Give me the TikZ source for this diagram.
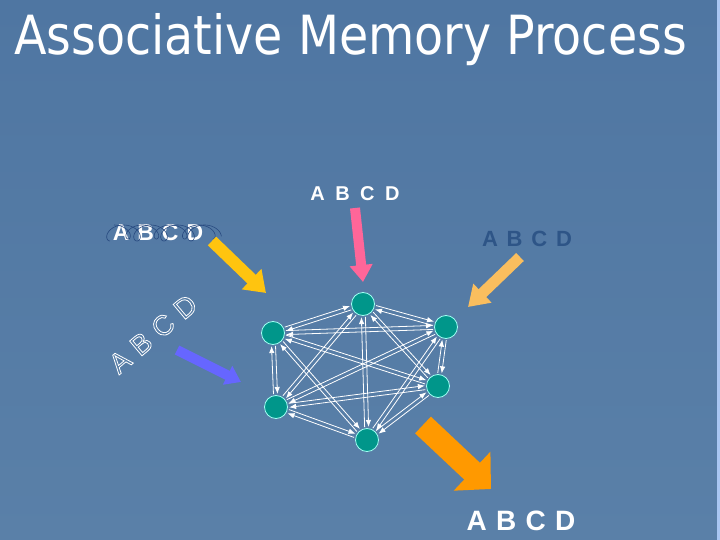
\documentclass[tikz,border=0pt]{standalone}
\usepackage{fontspec}
\setmainfont{Liberation Sans}
\newfontfamily\titlefont{DejaVu Sans}
\newfontfamily\abcdfont{Liberation Sans}
\usetikzlibrary{arrows.meta,calc}

\definecolor{bgtop}{HTML}{4F76A2}
\definecolor{bgbottom}{HTML}{5A80A8}
\definecolor{edgestrip}{HTML}{A9C6F2}
\definecolor{neuronfill}{HTML}{00968A}
\definecolor{neuronrim}{HTML}{9FFFF2}
\definecolor{inkblue}{HTML}{2E5587}
\definecolor{scribble}{HTML}{284A80}
\definecolor{goldarrow}{HTML}{FFC40F}
\definecolor{pinkarrow}{HTML}{FF6699}
\definecolor{peacharrow}{HTML}{FABE5E}
\definecolor{violetarrow}{HTML}{6666FF}
\definecolor{orangearrow}{HTML}{FF9900}

% hollow letters (stroked, not filled)
\newcommand{\hollow}[1]{\special{pdf:literal direct 1 Tr 0.8 w}#1\special{pdf:literal direct 0 Tr}}
% letters with a given size and gap
\newcommand{\abcd}[2]{\abcdfont\bfseries\fontsize{#1}{#1}\selectfont\spaceskip=#2\relax A B C D}

\tikzset{
  neuron/.style={circle, fill=neuronfill, draw=neuronrim, line width=0.8bp,
    minimum size=23bp, inner sep=0pt},
  link/.style={white, line width=0.8bp, -{Latex[length=7bp,width=5.5bp]},
    shorten <=13bp, shorten >=13bp},
  blockarrow/.style={line width=#1, line cap=butt}
}

\begin{document}
\begin{tikzpicture}[x=1bp,y=-1bp]
		% Background
		\shade[top color=bgtop, bottom color=bgbottom] (0,0) rectangle (720,540);
		\fill[edgestrip] (717,0) rectangle (720,540);
		\useasboundingbox (0,0) rectangle (720,540);

		% Title
		\node[anchor=base west, text=white, inner sep=0pt] (title) at (14,55)
			{\titlefont\fontsize{54bp}{60bp}\selectfont\scalebox{0.88}[1]{Associative Memory Process}};

		% Patterns
		\node[anchor=base, text=white, inner sep=0pt] (cue) at (355,201) {\abcd{20bp}{10.5bp}};
		\node[anchor=base, text=white, inner sep=0pt] (noisy) at (158,241) {\abcd{23bp}{8bp}};
		\draw[scribble, line width=0.6bp] plot[domain=0:24, samples=160, variable=\t]
			({110 + 4.3*\t - 9*sin(\t r)}, {233 + 8*cos(\t r)});
		\draw[scribble, line width=0.6bp] plot[domain=0:22, samples=150, variable=\t]
			({114 + 4.5*\t + 8*sin(\t r)}, {232 - 7*cos(\t r)});
		\node[anchor=base, text=inkblue, inner sep=0pt] (faint) at (527,247) {\abcd{22bp}{8.8bp}};
		\node[text=white, rotate=40, inner sep=0pt] (hand) at (153,334)
			{\abcdfont\fontsize{28bp}{32bp}\selectfont\hollow{A\kern9bp B\kern9bp C\kern9bp D}};
		\node[anchor=base, text=white, inner sep=0pt] (recall) at (521,530) {\abcd{28bp}{9.3bp}};

		% Input and output arrows
		\coordinate (goldtail) at (212,241);   \coordinate (goldtip) at (266,293);
		\coordinate (pinktail) at (355,208);   \coordinate (pinktip) at (363,282);
		\coordinate (peachtail) at (520,257);  \coordinate (peachtip) at (468,307);
		\coordinate (violettail) at (177,350); \coordinate (violettip) at (241,382);
		\coordinate (outtail) at (423,425);    \coordinate (outtip) at (491,489);
		\draw[goldarrow, blockarrow=12bp, -{Triangle[width=27bp,length=20bp]}] (goldtail) -- (goldtip);
		\draw[pinkarrow, blockarrow=10bp, -{Triangle[width=22bp,length=17bp]}] (pinktail) -- (pinktip);
		\draw[peacharrow, blockarrow=11bp, -{Triangle[width=25bp,length=20bp]}] (peachtail) -- (peachtip);
		\draw[violetarrow, blockarrow=10bp, -{Triangle[width=20bp,length=15bp]}] (violettail) -- (violettip);
		\draw[orangearrow, blockarrow=23bp, -{Triangle[width=52bp,length=26bp]}] (outtail) -- (outtip);

		% Network
		\node[neuron] (top) at (363,304) {};
		\node[neuron] (upleft) at (273,333) {};
		\node[neuron] (upright) at (446,327) {};
		\node[neuron] (lowright) at (438,386) {};
		\node[neuron] (lowleft) at (276,407) {};
		\node[neuron] (bottom) at (367,440) {};

		\foreach \a/\b in {top/upleft, top/upright, top/lowright, top/lowleft, top/bottom,
				upleft/upright, upleft/lowright, upleft/lowleft, upleft/bottom,
				upright/lowright, upright/lowleft, upright/bottom,
				lowright/lowleft, lowright/bottom, lowleft/bottom} {
			\draw[link] ($(\a)!2bp!90:(\b)$) -- ($(\b)!2bp!-90:(\a)$);
			\draw[link] ($(\b)!2bp!90:(\a)$) -- ($(\a)!2bp!-90:(\b)$);
		}
	\end{tikzpicture}
\end{document}
